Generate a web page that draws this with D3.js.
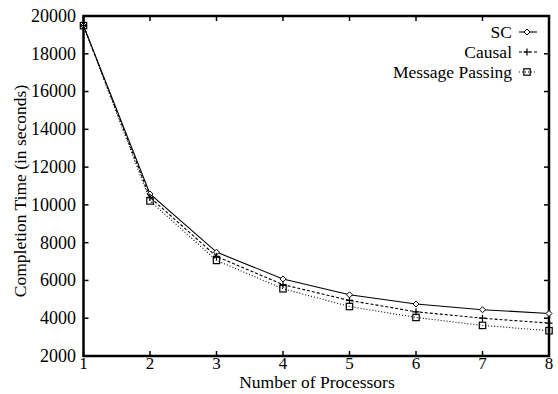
<!DOCTYPE html>
<html>
<head>
<meta charset="utf-8">
<script src="https://cdn.jsdelivr.net/npm/d3@7"></script>
<style>
  html, body { margin: 0; padding: 0; background: #fff; }
  text { font-family: "Liberation Serif", "DejaVu Serif", serif; fill: #000; }
</style>
</head>
<body>
<svg id="chart" width="558" height="394" font-family="Liberation Serif, serif"></svg>
<script>
// Number of processors and completion times (seconds)
const processors = [1, 2, 3, 4, 5, 6, 7, 8];
const scTimes      = [19490, 10580, 7500, 6080, 5240, 4750, 4450, 4250];
const causalTimes  = [19490, 10400, 7270, 5780, 4940, 4340, 4000, 3740];
const mpTimes      = [19490, 10210, 7060, 5560, 4620, 4040, 3620, 3340];
const seriesNames  = ["SC", "Causal", "Message Passing"];
const yTickValues  = [2000, 4000, 6000, 8000, 10000, 12000, 14000, 16000, 18000, 20000];

const svg = d3.select("#chart");
const plotLeft = 83.5, plotRight = 549, plotTop = 16, plotBottom = 356;

const x = d3.scaleLinear().domain([1, 8]).range([plotLeft, plotRight]);
const y = d3.scaleLinear().domain([2000, 20000]).range([plotBottom, plotTop]);

// Frame
svg.append("rect")
  .attr("x", plotLeft).attr("y", plotTop)
  .attr("width", plotRight - plotLeft).attr("height", plotBottom - plotTop)
  .attr("fill", "none").attr("stroke", "#000").attr("stroke-width", 2.5);

// Inward ticks on all four sides
const tickLen = 5;
const g = svg.append("g").attr("stroke", "#000").attr("stroke-width", 1.5);
processors.forEach(p => {
  g.append("line").attr("x1", x(p)).attr("x2", x(p)).attr("y1", plotBottom).attr("y2", plotBottom - tickLen);
  g.append("line").attr("x1", x(p)).attr("x2", x(p)).attr("y1", plotTop).attr("y2", plotTop + tickLen);
});
yTickValues.forEach(v => {
  g.append("line").attr("x1", plotLeft).attr("x2", plotLeft + tickLen).attr("y1", y(v)).attr("y2", y(v));
  g.append("line").attr("x1", plotRight).attr("x2", plotRight - tickLen).attr("y1", y(v)).attr("y2", y(v));
});

// Tick labels
svg.append("g").selectAll("text").data(processors).join("text")
  .attr("x", d => x(d)).attr("y", 369)
  .attr("text-anchor", "middle").attr("font-size", 17)
  .text(d => d);
svg.append("g").selectAll("text").data(yTickValues).join("text")
  .attr("x", 76).attr("y", d => y(d)).attr("dy", "0.33em")
  .attr("text-anchor", "end").attr("font-size", 18)
  .text(d => d);

// Axis titles
svg.append("text")
  .attr("x", 317).attr("y", 388)
  .attr("text-anchor", "middle").attr("font-size", 17.5)
  .text("Number of Processors");
svg.append("text")
  .attr("transform", "translate(26,191) rotate(-90)")
  .attr("text-anchor", "middle").attr("font-size", 17.5)
  .text("Completion Time (in seconds)");

// Series
const series = [
  { name: seriesNames[0], values: scTimes, dash: null, marker: "diamond" },
  { name: seriesNames[1], values: causalTimes, dash: "3,2", marker: "plus" },
  { name: seriesNames[2], values: mpTimes, dash: "1,2", marker: "square" }
];

const line = d3.line().x((d, i) => x(processors[i])).y(d => y(d));

function drawMarker(sel, type, cx, cy) {
  if (type === "diamond") {
    sel.append("path")
      .attr("d", `M${cx},${cy - 3}L${cx + 3},${cy}L${cx},${cy + 3}L${cx - 3},${cy}Z`)
      .attr("fill", "#fff").attr("stroke", "#000").attr("stroke-width", 1);
  } else if (type === "plus") {
    sel.append("path")
      .attr("d", `M${cx - 3.5},${cy}H${cx + 3.5}M${cx},${cy - 3.5}V${cy + 3.5}`)
      .attr("stroke", "#000").attr("stroke-width", 1.2);
  } else {
    sel.append("rect")
      .attr("x", cx - 3.2).attr("y", cy - 3.2).attr("width", 6.4).attr("height", 6.4)
      .attr("fill", "none").attr("stroke", "#000").attr("stroke-width", 1.2);
  }
}

series.forEach(s => {
  svg.append("path")
    .attr("d", line(s.values))
    .attr("fill", "none").attr("stroke", "#000").attr("stroke-width", 1.1)
    .attr("stroke-dasharray", s.dash);
  const mg = svg.append("g");
  s.values.forEach((v, i) => drawMarker(mg, s.marker, x(processors[i]), y(v)));
});

// Legend
series.forEach((s, i) => {
  const ly = 32 + i * 20;
  svg.append("text")
    .attr("x", 512).attr("y", ly).attr("dy", "0.33em")
    .attr("text-anchor", "end").attr("font-size", 17.5)
    .text(s.name);
  svg.append("line")
    .attr("x1", 519).attr("x2", 537).attr("y1", ly).attr("y2", ly)
    .attr("stroke", "#000").attr("stroke-width", 1.1)
    .attr("stroke-dasharray", s.dash);
  const lg = svg.append("g");
  drawMarker(lg, s.marker, 527, ly);
});
</script>
</body>
</html>
